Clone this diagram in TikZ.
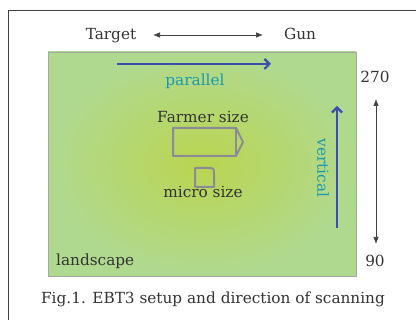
\documentclass[tikz,border=0pt]{standalone}
\usepackage{fontspec}
\setmainfont{DejaVu Serif}
\usetikzlibrary{arrows.meta}
\definecolor{edgegreen}{HTML}{B0D990}
\definecolor{midgreen}{HTML}{BAD550}
\definecolor{boxgray}{HTML}{8C8A96}
\definecolor{scanblue}{HTML}{3A4FA8}
\definecolor{labteal}{HTML}{1A9AB0}
\definecolor{inkgray}{HTML}{333333}
\begin{document}
\begin{tikzpicture}[x=1pt,y=-1pt,
  txt/.style={font=\fontsize{15.3}{18}\selectfont, text=inkgray, inner sep=0pt, anchor=base},
  scanarrow/.style={draw=scanblue, line width=2.2pt, -{Straight Barb[length=5pt,width=10pt,line width=2.2pt]}},
  blackarrow/.style={draw=black!75, line width=0.7pt, {Latex[length=7pt,width=5.5pt]}-{Latex[length=7pt,width=5.5pt]}},
  sizebox/.style={draw=boxgray, line width=2pt, line join=round}]
\useasboundingbox (0,0) rectangle (416,320);
% outer frame
\draw[black!75, line width=0.8pt] (8,320) -- (8,10) -- (416,10);
% film
\shade[inner color=midgreen, outer color=edgegreen, shading=radial] (48,52) rectangle (356,276);
\draw[black!35, line width=0.8pt] (48,52) rectangle (356,276);
% labels above
\node[txt] (target) at (111,40) {Target};
\node[txt] (gun) at (300,40) {Gun};
\coordinate (ta) at (153,35);
\coordinate (tb) at (263,35);
\draw[blackarrow] (ta) -- (tb);
% parallel scan
\coordinate (pa) at (117,64);
\coordinate (pb) at (271,64);
\draw[scanarrow] (pa) -- (pb);
\node[txt, text=labteal] (par) at (195,86) {parallel};
% vertical scan
\coordinate (va) at (337,228);
\coordinate (vb) at (337,106);
\draw[scanarrow] (va) -- (vb);
\node[txt, text=labteal, anchor=center, rotate=-90] (vert) at (323,168) {vertical};
% angle range
\node[txt] (a270) at (375,83) {270};
\node[txt] (a90) at (375,267) {90};
\coordinate (ra) at (376,99);
\coordinate (rb) at (376,244);
\draw[blackarrow] (ra) -- (rb);
% sizes
\node[txt] (farmer) at (203,123) {Farmer size};
\draw[sizebox] (173,128) -- (236,128) -- (243,142) -- (236,156) -- (173,156) -- cycle;
\draw[sizebox] (236,128) -- (236,156);
\draw[sizebox] (195,168) -- (207,168) .. controls (214,168) .. (214,175) -- (214,187) -- (195,187) -- cycle;
\node[txt] (micro) at (203,198) {micro size};
\node[txt, anchor=base west] (land) at (56,266) {landscape};
% caption
\node[txt] (cap) at (213,304) {Fig.1. EBT3 setup and direction of scanning};
\end{tikzpicture}
\end{document}
